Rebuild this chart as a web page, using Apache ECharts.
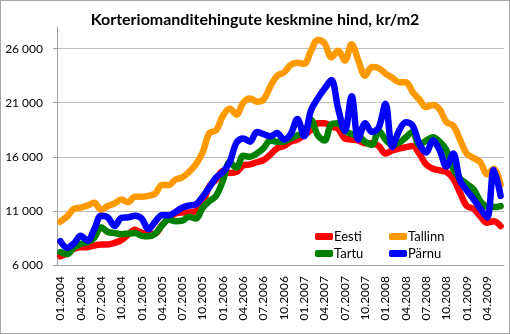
<!DOCTYPE html>
<html>
<head>
<meta charset="utf-8">
<script src="https://cdn.jsdelivr.net/npm/echarts@6/dist/echarts.min.js"></script>
<style>
  html, body { margin: 0; padding: 0; background: #fff; }
  #chart { width: 510px; height: 334px; box-sizing: border-box; border: 1px solid #a6a6a6; }
</style>
</head>
<body>
<div id="chart"></div>
<script>
// Months 01.2004 – 06.2009
const months = [
  '01.2004','02.2004','03.2004','04.2004','05.2004','06.2004','07.2004','08.2004','09.2004','10.2004','11.2004','12.2004',
  '01.2005','02.2005','03.2005','04.2005','05.2005','06.2005','07.2005','08.2005','09.2005','10.2005','11.2005','12.2005',
  '01.2006','02.2006','03.2006','04.2006','05.2006','06.2006','07.2006','08.2006','09.2006','10.2006','11.2006','12.2006',
  '01.2007','02.2007','03.2007','04.2007','05.2007','06.2007','07.2007','08.2007','09.2007','10.2007','11.2007','12.2007',
  '01.2008','02.2008','03.2008','04.2008','05.2008','06.2008','07.2008','08.2008','09.2008','10.2008','11.2008','12.2008',
  '01.2009','02.2009','03.2009','04.2009','05.2009','06.2009'
];

// Average price, kr/m2
const eesti = [
  6800, 7100, 7500, 7650, 7650, 7800, 7900, 7900, 8050, 8300, 8800, 9250,
  9000, 8850, 8900, 9700, 10300, 10750, 10850, 10850, 11000, 11700, 13300, 13900,
  14700, 14500, 14600, 15200, 15300, 15500, 15700, 16200, 16800, 17000, 17400, 17600,
  18000, 18500, 19100, 19100, 18800, 18600, 17700, 17600, 17500, 17250, 17250, 17000,
  16300, 16600, 16750, 16900, 17000, 16300, 15300, 14900, 14750, 14600, 14000, 12700,
  11450, 11200, 10500, 9900, 10050, 9600
];
const tallinn = [
  10000, 10500, 11200, 11300, 11500, 11750, 11100, 11450, 11700, 12050, 11800, 12300,
  12300, 12400, 12600, 13400, 13400, 13900, 14100, 14600, 15300, 16400, 18200, 18450,
  19800, 20450, 19900, 21000, 21400, 21100, 21300, 22500, 23500, 23800, 24500, 24700,
  24600, 25800, 26800, 26500, 25200, 25800, 24900, 26400, 24900, 23500, 24300, 24200,
  23700, 23300, 22900, 22900, 22000, 21300, 20600, 20800, 20400, 19200, 18900, 17600,
  16300, 15900, 15500, 14400, 14900, 13400
];
const tartu = [
  7200, 7000, 7600, 7950, 8100, 8500, 9500, 9050, 8950, 8850, 8900, 8950,
  8700, 8650, 8900, 9650, 10200, 10050, 10100, 10450, 10300, 11300, 11900, 12400,
  13800, 15500, 15000, 16100, 16000, 16300, 16800, 17500, 17400, 17400, 17700, 18000,
  18200, 19400, 18000, 17500, 19000, 19100, 18400, 18100, 17900, 17400, 17100, 18400,
  17600, 17100, 17300, 17800, 18300, 17100, 17500, 17800, 17400, 16600, 14900, 14000,
  13500, 13000, 11900, 11400, 11350, 11450
];
const parnu = [
  8200, 7600, 8000, 8700, 8250, 9300, 10550, 10400, 9600, 10350, 10400, 10550,
  10300, 9300, 10000, 10600, 10600, 10900, 11300, 11500, 11600, 12300, 13200, 14100,
  14600, 15500, 17300, 17700, 17400, 18300, 18100, 17900, 18200, 17600, 18100, 19500,
  17900, 20300, 21400, 22300, 23100, 20500, 18400, 21600, 17600, 19100, 18300, 18700,
  20900, 16900, 18400, 19200, 18900, 17200, 16400, 17500, 16600, 15100, 16300, 13800,
  12900, 12100, 11200, 10400, 14800, 12400
];

const yTicks = [6000, 11000, 16000, 21000, 26000];

const seriesDefs = [
  { name: 'Eesti',   data: eesti,   color: '#ff0000' },
  { name: 'Tallinn', data: tallinn, color: '#ff9900' },
  { name: 'Tartu',   data: tartu,   color: '#008000' },
  { name: 'Pärnu',   data: parnu,   color: '#0000ff' }
];

const FONT = 'Lato, "Open Sans", sans-serif';

const fmt = v => String(v).replace(/\B(?=(\d{3})+(?!\d))/g, ' ');

const chart = echarts.init(document.getElementById('chart'), null, { renderer: 'canvas' });

chart.setOption({
  animation: false,
  backgroundColor: '#ffffff',
  textStyle: { fontFamily: FONT },
  title: {
    text: 'Korteriomanditehingute keskmine hind, kr/m2',
    left: 'center',
    top: 6,
    textStyle: { fontFamily: FONT, fontSize: 16, fontWeight: 'bold', color: '#000' }
  },
  legend: [
    {
      orient: 'vertical', left: 309, top: 224, itemGap: 4,
      itemWidth: 18, itemHeight: 7, icon: 'roundRect',
      data: ['Eesti', 'Tartu'],
      textStyle: { fontFamily: FONT, fontSize: 13, color: '#000', padding: [0, 0, 0, -4] }
    },
    {
      orient: 'vertical', left: 383, top: 224, itemGap: 4,
      itemWidth: 18, itemHeight: 7, icon: 'roundRect',
      data: ['Tallinn', 'Pärnu'],
      textStyle: { fontFamily: FONT, fontSize: 13, color: '#000', padding: [0, 0, 0, -4] }
    }
  ],
  grid: { left: 56, right: 5, top: 26, bottom: 68, containLabel: false },
  xAxis: {
    type: 'category',
    data: months,
    boundaryGap: true,
    axisLine: { lineStyle: { color: '#a0a0a0', width: 1 } },
    axisTick: { interval: 2, length: 5, lineStyle: { color: '#a0a0a0' } },
    axisLabel: {
      interval: 2, rotate: 90, margin: 11,
      fontFamily: FONT, fontSize: 12, color: '#000'
    },
    splitLine: { show: false }
  },
  yAxis: {
    type: 'value',
    min: 6000, max: 28000, interval: 5000,
    axisLine: { show: true, lineStyle: { color: '#a0a0a0', width: 1 } },
    axisTick: { show: true, length: 4, lineStyle: { color: '#a0a0a0' }, customValues: yTicks },
    axisLabel: {
      margin: 14, customValues: yTicks,
      fontFamily: FONT, fontSize: 12, color: '#000',
      formatter: v => fmt(v)
    },
    splitLine: { show: true, lineStyle: { color: '#c0c0c0', width: 1 } }
  },
  series: seriesDefs.map(s => ({
    name: s.name,
    type: 'line',
    data: s.data,
    smooth: 0.35,
    symbol: 'none',
    showSymbol: false,
    color: s.color,
    lineStyle: { color: s.color, width: 6.5, cap: 'round', join: 'round' },
    itemStyle: { color: s.color },
    clip: false
  }))
});
</script>
</body>
</html>
